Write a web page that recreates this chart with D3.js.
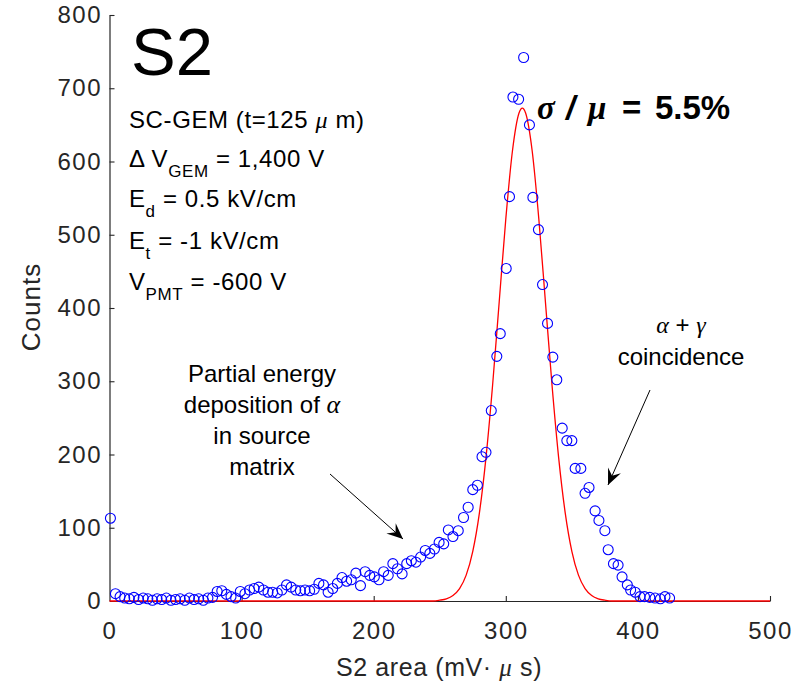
<!DOCTYPE html>
<html>
<head>
<meta charset="utf-8">
<script src="https://cdn.jsdelivr.net/npm/d3@7"></script>
<style>
  html, body { margin: 0; padding: 0; background: #fff; }
  svg { display: block; }
  text { font-family: "Liberation Sans", Arial, Helvetica, sans-serif; }
</style>
</head>
<body>
<svg id="chart" width="794" height="687"></svg>
<script>
// ---------------- data ----------------
const binX = [0.7,4.5,8,11.5,15,18.5,22,25.5,29,32.5,36,39.5,43,46.5,50,53.5,57,60.5,64,67.5,71,74.5,78,
  81.5,85,88.5,92,95.5,99,102.5,106,109.5,113,116.5,120,123.5,127,130.5,134,137.5,141,144.5,148,151.5,155,
  158.5,162,165.5,169,172.5,176,179.5,183,186.5,190,193.5,197,200.5,204,207.5,211,214.5,218,221.5,225,228.5,
  232,235.5,239,242.5,246,249.5,253,256.5,260,264,268,271.5,275,278.5,282,285,289,293.2,295.8,300.3,302.8,
  305.4,309.7,313.5,317.9,320.5,324.7,327.8,331.6,335.6,338.6,342.7,346.2,350,352.5,356.8,360,363,367.6,
  370.5,375,377.5,381.5,385,388,392,394.5,398,401.6,405,409,413,417,420.5,424];
const counts = [113,10,6,4,3,5,2,4,3,1,3,2,4,1,2,3,1,4,2,3,1,4,5,
  13,14,9,6,4,13,10,15,17,19,15,12,12,11,15,22,19,15,14,15,14,16,
  24,22,12,17,24,32,27,29,38,21,40,35,33,29,40,35,51,44,37,51,55,
  53,60,69,65,71,80,78,97,88,96,114,128,152,158,197,203,260,334,365,454,552,
  688,685,742,650,551,507,432,379,333,302,236,219,219,181,181,147,155,123,
  110,96,70,51,49,33,22,15,12,6,6,5,4,3,6,4];

const fitX = [0,245,250,255,260,265,270,275,280,285,290,295,300,305,310,312.5,315,320,325,330,335,340,345,350,355,360,365,370,375,380,500];
const fitY = [0,0,1.1,3,7.5,16.9,35.3,67.8,120,195.8,294.5,408.2,521.5,614,666.2,673,666.2,614,521.5,408.2,294.5,195.8,120,67.8,35.3,16.9,7.5,3,1.1,0,0];

const xTicks = [0,100,200,300,400,500];
const yTicks = [0,100,200,300,400,500,600,700,800];

// ---------------- drawing ----------------
const svg = d3.select("#chart");
const axisColor = "#262626";
const serifIt = t => t.style("font-family","'Liberation Serif', serif").style("font-style","italic");

const x = d3.scaleLinear().domain([0,500]).range([109.5,770]);
const y = d3.scaleLinear().domain([0,800]).range([601,15]);

const line = d3.line().x((d,i)=>x(fitX[i])).y((d,i)=>y(fitY[i])).curve(d3.curveMonotoneX);

// axes
const gx = svg.append("g").attr("transform","translate(0,601)")
  .call(d3.axisBottom(x).tickValues(xTicks).tickSize(-5).tickPadding(20.5).tickSizeOuter(0));
const gy = svg.append("g").attr("transform","translate(109.5,0)")
  .call(d3.axisLeft(y).tickValues(yTicks).tickSize(-5).tickPadding(9).tickSizeOuter(0));
[gx,gy].forEach(g=>{
  g.select(".domain").attr("stroke",axisColor).attr("stroke-width",1.2);
  g.selectAll(".tick line").attr("stroke",axisColor).attr("stroke-width",1.1);
  g.selectAll(".tick text").attr("fill",axisColor)
    .style("font-family","'Liberation Sans', Arial, sans-serif")
    .style("font-size","24px").style("letter-spacing","1.5px");
});
gy.selectAll(".tick text").attr("dx","1.5px");
gx.selectAll(".tick").filter(d=>d===0).select("line").remove();
gy.selectAll(".tick").filter(d=>d===0).select("line").remove();

svg.append("path").datum(fitX).attr("d",line)
  .attr("fill","none").attr("stroke","#ff0000").attr("stroke-width",1.3);

// data markers
svg.append("g").selectAll("circle").data(counts).join("circle")
  .attr("cx",(d,i)=>x(binX[i])).attr("cy",d=>y(d)).attr("r",5)
  .attr("fill","none").attr("stroke","#0000ff").attr("stroke-width",1.1);

// axis labels
svg.append("text").attr("x",439).attr("y",676).attr("text-anchor","middle")
  .attr("fill",axisColor).style("font-size","25px").style("letter-spacing","0.6px")
  .call(t=>{
    t.append("tspan").text("S2 area (mV\u00B7 ");
    t.append("tspan").text("\u03BC").call(serifIt);
    t.append("tspan").text(" s)");
  });
svg.append("text").attr("transform","translate(40,307) rotate(-90)").attr("text-anchor","middle")
  .attr("fill",axisColor).style("font-size","26px").style("letter-spacing","1px").text("Counts");

// title S2
svg.append("text").attr("x",131).attr("y",75).style("font-size","67px").attr("fill","#000").text("S2");

// info block
function sub(t, main, subtxt, rest){
  t.append("tspan").text(main);
  t.append("tspan").text(subtxt).attr("dy",10).style("font-size","17px");
  t.append("tspan").text(rest).attr("dy",-10);
}
const info = svg.append("g").attr("fill","#000").style("font-size","24px").style("letter-spacing","0.6px");
info.append("text").attr("x",129).attr("y",128).call(t=>{
  t.append("tspan").text("SC-GEM (t=125 ");
  t.append("tspan").text("\u03BC").call(serifIt);
  t.append("tspan").text(" m)");
});
info.append("text").attr("x",129).attr("y",167).call(t=>sub(t,"\u0394 V","GEM"," = 1,400 V"));
info.append("text").attr("x",129).attr("y",207).call(t=>sub(t,"E","d"," = 0.5 kV/cm"));
info.append("text").attr("x",129).attr("y",249).call(t=>sub(t,"E","t"," = -1 kV/cm"));
info.append("text").attr("x",129).attr("y",290).call(t=>sub(t,"V","PMT"," = -600 V"));

// sigma/mu
svg.append("text").attr("y",119).attr("fill","#000")
  .style("font-size","33px").style("font-weight","bold").call(t=>{
    t.append("tspan").attr("x",537).text("\u03C3").call(serifIt);
    t.append("tspan").attr("x",566).text("/").style("font-style","italic");
    t.append("tspan").attr("x",588).text("\u03BC").call(serifIt);
    t.append("tspan").attr("x",622).text("=");
    t.append("tspan").attr("x",655).text("5.5%");
  });

// annotations
const ann1 = svg.append("text").attr("fill","#000").style("font-size","24px").attr("text-anchor","middle");
const a1lines = ["Partial energy","deposition of ","in source","matrix"];
const a1y = [382,413,444,475];
a1lines.forEach((s,i)=>{
  ann1.append("tspan").attr("x",262).attr("y",a1y[i]).text(s);
  if(i===1){ ann1.append("tspan").text("\u03B1").call(serifIt).style("font-size","26px"); }
});
const ann2 = svg.append("text").attr("fill","#000").style("font-size","24px").attr("text-anchor","middle");
ann2.append("tspan").attr("x",681).attr("y",333).call(t=>{
  t.append("tspan").text("\u03B1").call(serifIt);
  t.append("tspan").text(" + ");
  t.append("tspan").text("\u03B3").call(serifIt);
});
ann2.append("tspan").attr("x",681).attr("y",365).text("coincidence");

function arrow(x0,y0,x1,y1){
  svg.append("line").attr("x1",x0).attr("y1",y0).attr("x2",x1).attr("y2",y1)
    .attr("stroke","#000").attr("stroke-width",1);
  const dx=x1-x0, dy=y1-y0, L=Math.hypot(dx,dy), ux=dx/L, uy=dy/L, px=-uy, py=ux;
  const hl=16, hw=7, notch=10;
  const bx=x1-ux*hl, by=y1-uy*hl, nx=x1-ux*notch, ny=y1-uy*notch;
  svg.append("path").attr("d",`M${x1},${y1}L${bx+px*hw},${by+py*hw}L${nx},${ny}L${bx-px*hw},${by-py*hw}Z`)
    .attr("fill","#000");
}
arrow(330,474,403,539);
arrow(650,390,608,485);
</script>
</body>
</html>
